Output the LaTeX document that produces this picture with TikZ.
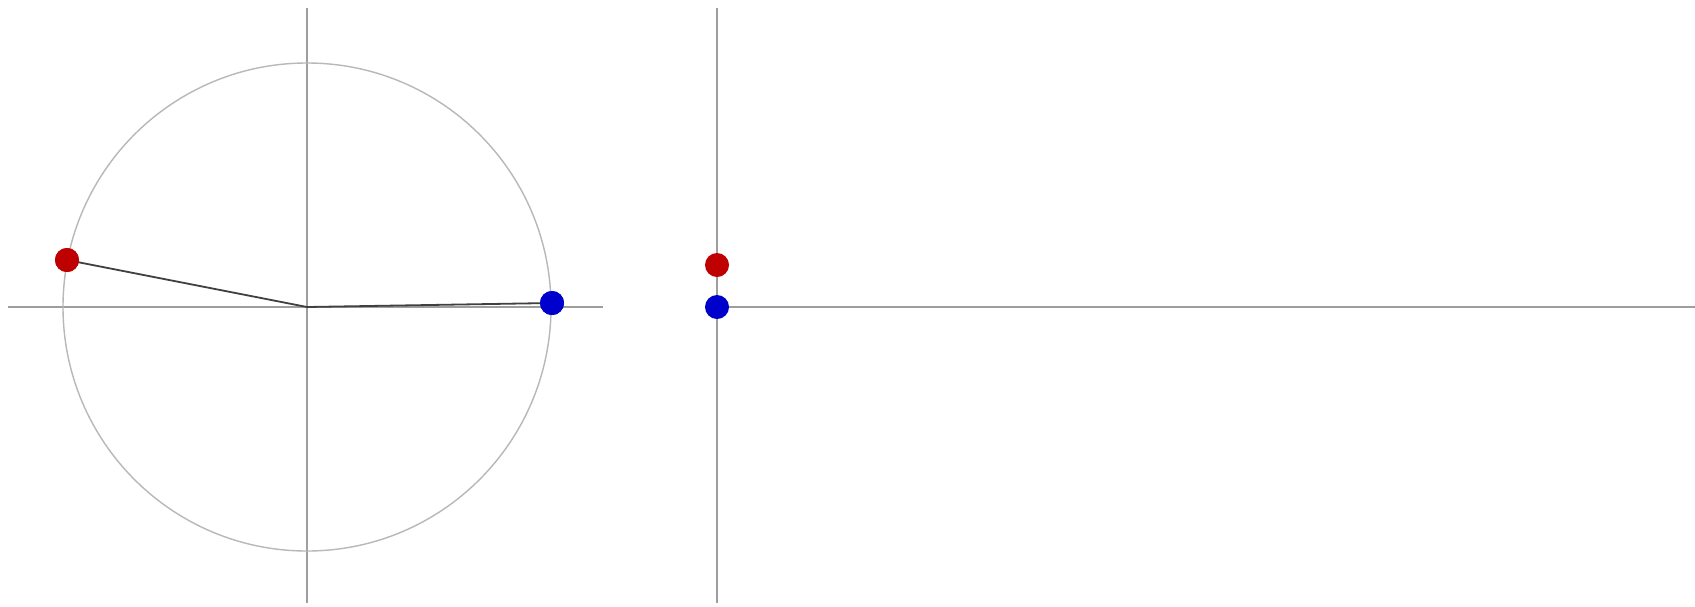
\documentclass[tikz,border=0pt]{standalone}
\begin{document}
\begin{tikzpicture}[x=1pt,y=-1pt,
  axis/.style={draw=black!38,line width=1.8pt},
  circ/.style={draw=black!28,line width=1.4pt},
  radius line/.style={draw=black!75,line width=1.8pt},
  reddot/.style={circle,fill=red!75!black,inner sep=0pt,minimum size=24pt},
  bluedot/.style={circle,fill=blue!80!black,inner sep=0pt,minimum size=24pt}]
\useasboundingbox[fill=white] (0,0) rectangle (1695,606);
% left panel
\coordinate (O) at (307,307);
\coordinate (axL) at (8,307);
\coordinate (axR) at (603,307);
\coordinate (axT) at (307,8);
\coordinate (axB) at (307,603);
\draw[axis] (axL) -- (axR);
\draw[axis] (axT) -- (axB);
\draw[circ] (O) circle[radius=244];
\node[reddot] (r1) at (67,260) {};
\node[bluedot] (b1) at (552,303) {};
\draw[radius line] (O) -- (r1.center);
\draw[radius line] (O) -- (b1.center);
\node[reddot] (r1) at (67,260) {};
\node[bluedot] (b1) at (552,303) {};
% right panel
\coordinate (vT) at (717,8);
\coordinate (vB) at (717,603);
\coordinate (hL) at (717,307);
\coordinate (hR) at (1695,307);
\draw[axis] (vT) -- (vB);
\draw[axis] (hL) -- (hR);
\node[reddot] (r2) at (717,265) {};
\node[bluedot] (b2) at (717,307) {};
\end{tikzpicture}
\end{document}
